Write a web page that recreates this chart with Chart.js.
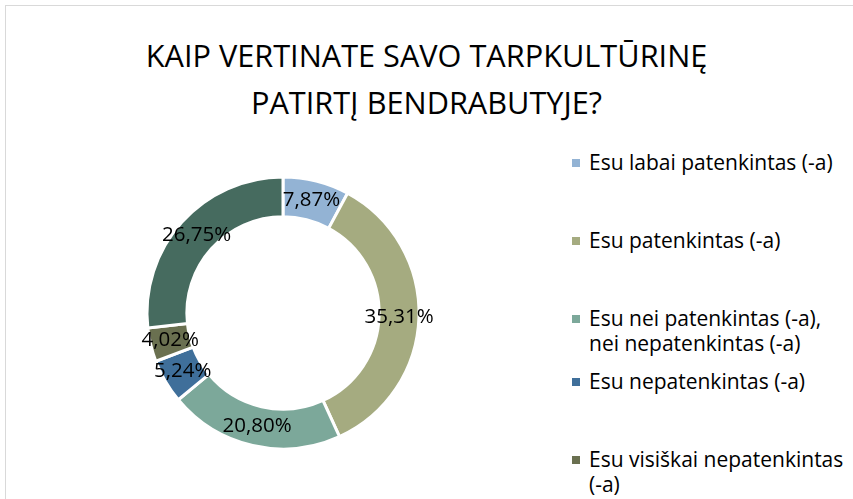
<!DOCTYPE html>
<html>
<head>
<meta charset="utf-8">
<script src="https://cdn.jsdelivr.net/npm/chart.js@4.4.1/dist/chart.umd.min.js"></script>
<style>
  html, body { margin:0; padding:0; background:#fff; width:853px; height:499px; overflow:hidden; }
  body { position:relative; font-family: "Open Sans", Lato, sans-serif; color:#000; }
  #frame { position:absolute; left:5px; top:5px; width:900px; height:600px; border:1px solid #d9d9d9; box-sizing:border-box; }
  #title { position:absolute; left:0; width:853px; top:32px; text-align:center; font-size:30.7px; line-height:47px; font-weight:400; }
  #chartBox { position:absolute; left:133px; top:163px; width:300px; height:300px; }
  #legend { position:absolute; left:572px; top:0; width:290px; }
  .item { position:absolute; left:0; display:flex; align-items:flex-start; font-size:21px; line-height:25px; white-space:nowrap; }
  .sw { width:8px; height:8px; margin-top:9px; margin-right:9px; flex:none; }
</style>
</head>
<body>
<div id="frame"></div>
<div id="title">KAIP VERTINATE SAVO TARPKULTŪRINĘ<br>PATIRTĮ BENDRABUTYJE?</div>
<div id="chartBox"><canvas id="c" width="300" height="300"></canvas></div>
<div id="legend"></div>
<script>
const categories = [
  ["Esu labai patenkintas (-a)"],
  ["Esu patenkintas (-a)"],
  ["Esu nei patenkintas (-a),", "nei nepatenkintas (-a)"],
  ["Esu nepatenkintas (-a)"],
  ["Esu visiškai nepatenkintas", "(-a)"],
  ["Neturiu nuomonės"]
];
const values = [7.87, 35.31, 20.80, 5.24, 4.02, 26.75];
const colors = ["#93B3D4", "#A5AB80", "#7CA89A", "#3F6F9A", "#6A7050", "#466B5F"];

// legend (HTML)
const legendTops = [150, 228, 306, 369, 447, 525];
const legend = document.getElementById('legend');
categories.forEach((lines, i) => {
  const it = document.createElement('div');
  it.className = 'item';
  it.style.top = legendTops[i] + 'px';
  const sw = document.createElement('div');
  sw.className = 'sw';
  sw.style.background = colors[i];
  const tx = document.createElement('div');
  tx.innerHTML = lines.join('<br>');
  it.appendChild(sw); it.appendChild(tx);
  legend.appendChild(it);
});

const labelPlugin = {
  id: 'sliceLabels',
  afterDatasetsDraw(chart) {
    const ctx = chart.ctx;
    const meta = chart.getDatasetMeta(0);
    ctx.save();
    ctx.font = '20.5px "Open Sans", Lato, sans-serif';
    ctx.fillStyle = '#000';
    ctx.textAlign = 'center';
    ctx.textBaseline = 'middle';
    meta.data.forEach((arc, i) => {
      const p = arc.tooltipPosition();
      ctx.fillText(values[i].toFixed(2).replace('.', ',') + '%', p.x, p.y);
    });
    ctx.restore();
  }
};

new Chart(document.getElementById('c'), {
  type: 'doughnut',
  data: {
    labels: categories.map(l => l.join(' ')),
    datasets: [{
      data: values,
      backgroundColor: colors,
      borderColor: '#ffffff',
      borderWidth: 3
    }]
  },
  options: {
    responsive: false,
    animation: false,
    radius: 136,
    cutout: 105,
    layout: { padding: 0 },
    plugins: { legend: { display: false }, tooltip: { enabled: false } }
  },
  plugins: [labelPlugin]
});
</script>
</body>
</html>
